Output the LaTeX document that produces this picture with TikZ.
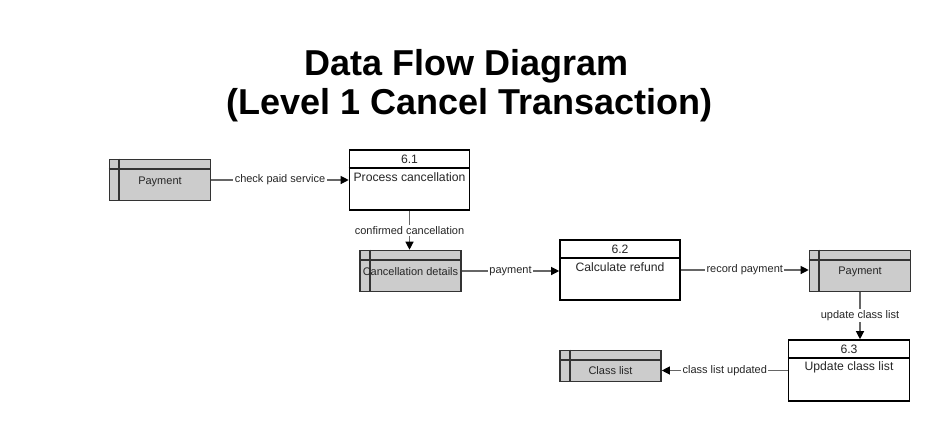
\documentclass[tikz,border=0pt]{standalone}
\usepackage{fontspec}
\setmainfont{Liberation Sans}
\usetikzlibrary{arrows.meta}
\definecolor{storefill}{HTML}{CCCCCC}
\definecolor{storeline}{HTML}{333333}
\definecolor{flowline}{HTML}{666666}
\begin{document}
\begin{tikzpicture}[x=1pt,y=-1pt,
  store/.style={draw=storeline,line width=1.6pt,fill=storefill,minimum width=101pt,inner sep=0pt},
  stext/.style={font=\fontsize{11}{13}\selectfont,text=black!85,inner sep=0pt},
  proc/.style={draw=black,line width=1.6pt,fill=white,minimum width=120pt,minimum height=60pt,inner sep=0pt},
  ptext/.style={font=\fontsize{12.2}{14}\selectfont,text=black!85,inner sep=0pt},
  flow/.style={draw=flowline,line width=1.2pt,-{Triangle[length=8pt,width=8pt,color=black]}},
  flabel/.style={fill=white,font=\fontsize{11}{13}\selectfont,text=black!85,inner sep=1.5pt},
  ttl/.style={font=\fontsize{36}{40}\selectfont\bfseries,anchor=base,inner sep=0pt}
]
\useasboundingbox (0,0) rectangle (930,421);

% title
\node[ttl] (title1) at (467,75) {Data Flow Diagram};
\node[ttl] (title2) at (469.5,114) {(Level 1 Cancel Transaction)};

% stores
\node[store,minimum height=41pt] (pay1) at (160,180) {};
\node[store,minimum height=41pt] (cd) at (410.5,271) {};
\node[store,minimum height=41pt] (pay2) at (860,271) {};
\node[store,minimum height=31pt] (cl) at (610.5,366) {};
\foreach \s in {pay1,cd,pay2,cl}{
  \draw[storeline,line width=1.6pt] ([yshift=-10pt]\s.north west) -- ([yshift=-10pt]\s.north east);
  \draw[storeline,line width=1.6pt] ([xshift=10.5pt]\s.north west) -- ([xshift=10.5pt]\s.south west);
}
\node[stext] (pay1t) at ([yshift=-1.5pt]pay1.center) {Payment};
\node[stext] (cdt) at ([yshift=-1pt]cd.center) {Cancellation details};
\node[stext] (pay2t) at ([yshift=-1pt]pay2.center) {Payment};
\node[stext] (clt) at ([yshift=-5pt]cl.center) {Class list};

% processes
\node[proc] (p61) at (409.5,180) {};
\node[proc] (p62) at (620,270) {};
\node[proc,minimum width=121pt,minimum height=61pt] (p63) at (849,370.5) {};
\foreach \p/\n/\t in {p61/6.1/Process cancellation,p62/6.2/Calculate refund,p63/6.3/Update class list}{
  \draw[black,line width=1.6pt] ([yshift=-19pt]\p.north west) -- ([yshift=-19pt]\p.north east);
  \node[ptext] (\p n) at ([yshift=-10pt]\p.north) {\n};
  \node[ptext] (\p t) at ([yshift=-28pt]\p.north) {\t};
}

% flows
\draw[flow] (pay1.east) -- node[flabel] (l1) {check paid service} (p61.west);
\draw[flow] (p61.south) -- node[flabel,pos=0.5] (l2) {confirmed cancellation} (p61.south |- cd.north);
\draw[flow] (cd.east) -- node[flabel] (l3) {payment} (cd.east -| p62.west);
\draw[flow] (p62.east) -- node[flabel] (l4) {record payment} (p62.east -| pay2.west);
\draw[flow] (pay2.south) -- node[flabel] (l5) {update class list} (pay2.south |- p63.north);
\draw[flow] (p63.west) -- node[flabel] (l6) {class list updated} (p63.west -| cl.east);
\end{tikzpicture}
\end{document}
